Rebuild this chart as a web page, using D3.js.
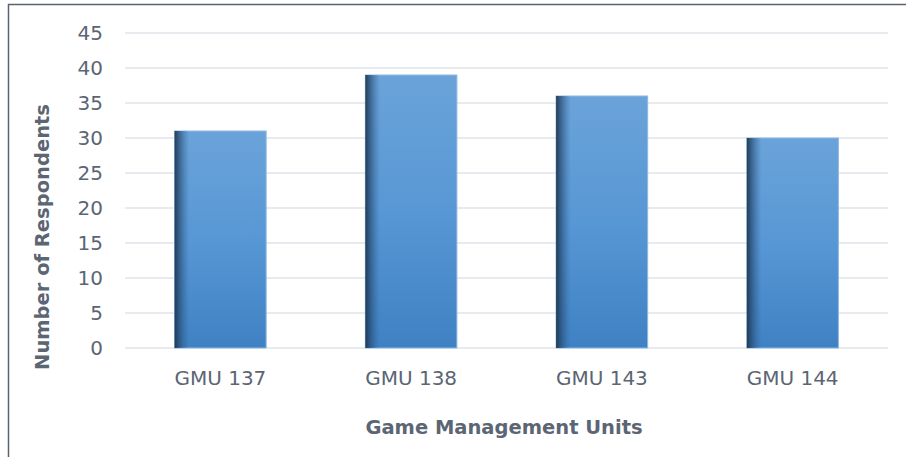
<!DOCTYPE html>
<html>
<head>
<meta charset="utf-8">
<script src="https://cdn.jsdelivr.net/npm/d3@7"></script>
<style>
  body { margin: 0; background: #fff; }
  svg { display: block; }
  text { font-family: "DejaVu Sans", sans-serif; fill: #5b6573; }
</style>
</head>
<body>
<svg id="chart" width="906" height="457"></svg>
<script>
// data
const categories = ['GMU 137', 'GMU 138', 'GMU 143', 'GMU 144'];
const respondents = [31, 39, 36, 30];
const yTicks = [0, 5, 10, 15, 20, 25, 30, 35, 40, 45];

const svg = d3.select('#chart');
const plot = {left: 125, right: 888, top: 33, bottom: 348};

// frame: only top and left edges are visible
svg.append('path')
    .attr('d', 'M8.5 457 L8.5 4.5 L906 4.5')
    .attr('fill', 'none')
    .attr('stroke', '#5a6470')
    .attr('stroke-width', 1.5);

const x = d3.scaleBand()
    .domain(categories)
    .range([plot.left, plot.right])
    .paddingInner(0.52)
    .paddingOuter(0.26);

const y = d3.scaleLinear()
    .domain([0, 45])
    .range([plot.bottom, plot.top]);

const defs = svg.append('defs');
const vert = defs.append('linearGradient')
    .attr('id', 'barFill')
    .attr('x1', 0).attr('y1', 0).attr('x2', 0).attr('y2', 1);
vert.append('stop').attr('offset', '0%').attr('stop-color', '#6aa3d9');
vert.append('stop').attr('offset', '50%').attr('stop-color', '#5897d5');
vert.append('stop').attr('offset', '100%').attr('stop-color', '#3f81c3');

const edge = defs.append('linearGradient')
    .attr('id', 'barEdge')
    .attr('x1', 0).attr('y1', 0).attr('x2', 1).attr('y2', 0);
edge.append('stop').attr('offset', '0%').attr('stop-color', '#1b3147').attr('stop-opacity', 0.9);
edge.append('stop').attr('offset', '6%').attr('stop-color', '#24466a').attr('stop-opacity', 0.6);
edge.append('stop').attr('offset', '16%').attr('stop-color', '#2f5f90').attr('stop-opacity', 0.0);
edge.append('stop').attr('offset', '100%').attr('stop-color', '#2f5f90').attr('stop-opacity', 0);

// gridlines
svg.append('g')
    .selectAll('line')
    .data(yTicks)
    .join('line')
    .attr('x1', plot.left)
    .attr('x2', plot.right)
    .attr('y1', d => y(d))
    .attr('y2', d => y(d))
    .attr('stroke', '#dfe3ea')
    .attr('stroke-width', 1.5);

// y tick labels
svg.append('g')
    .selectAll('text')
    .data(yTicks)
    .join('text')
    .attr('x', 103)
    .attr('y', d => y(d))
    .attr('dy', '0.36em')
    .attr('text-anchor', 'end')
    .attr('font-size', 20)
    .text(d => d);

// bars
const bars = svg.append('g')
    .selectAll('g')
    .data(respondents)
    .join('g');

bars.append('rect')
    .attr('x', (d, i) => x(categories[i]))
    .attr('y', d => y(d))
    .attr('width', x.bandwidth())
    .attr('height', d => y(0) - y(d))
    .attr('fill', 'url(#barFill)')
    .attr('stroke', '#8fb9e3')
    .attr('stroke-width', 1);

bars.append('rect')
    .attr('x', (d, i) => x(categories[i]))
    .attr('y', d => y(d))
    .attr('width', x.bandwidth())
    .attr('height', d => y(0) - y(d))
    .attr('fill', 'url(#barEdge)');

// category labels
svg.append('g')
    .selectAll('text')
    .data(categories)
    .join('text')
    .attr('x', d => x(d) + x.bandwidth() / 2)
    .attr('y', 385)
    .attr('text-anchor', 'middle')
    .attr('font-size', 20)
    .text(d => d);

// axis titles
svg.append('text')
    .attr('x', 504)
    .attr('y', 434)
    .attr('text-anchor', 'middle')
    .attr('font-size', 19.5)
    .attr('font-weight', 'bold')
    .text('Game Management Units');

svg.append('text')
    .attr('transform', 'translate(49,237) rotate(-90)')
    .attr('text-anchor', 'middle')
    .attr('font-size', 19.5)
    .attr('font-weight', 'bold')
    .text('Number of Respondents');
</script>
</body>
</html>
